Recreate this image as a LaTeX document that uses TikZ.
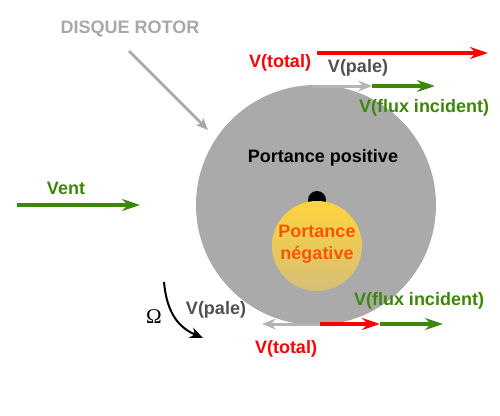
\documentclass[tikz,border=0pt]{standalone}
\usepackage{fontspec}
\setmainfont{Liberation Sans}
\newfontfamily\omegafont{Liberation Serif}
\usetikzlibrary{arrows.meta}
\begin{document}
\begin{tikzpicture}[x=1pt, y=-1pt,
    every node/.style={font=\fontsize{18}{22}\selectfont\bfseries, inner sep=0pt},
    vec/.style={line width=3.5pt, -{Stealth[length=18pt,width=12pt,inset=6pt]}}]
        \definecolor{disc}{RGB}{170,170,170}
        \definecolor{rotorgrey}{RGB}{168,168,168}
        \definecolor{blade}{RGB}{180,180,180}
        \definecolor{bladetext}{RGB}{80,80,80}
        \definecolor{wind}{RGB}{60,135,10}
        \definecolor{negtext}{RGB}{255,85,0}
        \definecolor{balltop}{RGB}{255,212,60}
        \definecolor{ballbot}{RGB}{214,190,120}
        \useasboundingbox (0,0) rectangle (500,415);
        \fill[disc] (316,205) circle (120);
        \fill[black] (317,200) circle (9);
        \shade[top color=balltop, bottom color=ballbot] (317,246) circle (45);
        \node[text=rotorgrey] (disque) at (130,29) {DISQUE ROTOR};
        \node[text=wind] (vent) at (66,188) {Vent};
        \node (pos) at (323,158) {Portance positive};
        \node[text=negtext, align=center] (neg) at (317,244) {Portance\\négative};
        \node[text=red] (totA) at (280,63) {V(total)};
        \node[text=bladetext] (paleA) at (358,68) {V(pale)};
        \node[text=wind] (fluxA) at (424,108) {V(flux incident)};
        \node[text=wind] (fluxB) at (419,301) {V(flux incident)};
        \node[text=bladetext] (paleB) at (216,310) {V(pale)};
        \node[text=red] (totB) at (286,349) {V(total)};
        \node[font=\fontsize{21}{21}\omegafont] (omega) at (154,317) {Ω};
        \coordinate (d0) at (129,51);
        \coordinate (d1) at (208,130);
        \coordinate (v0) at (17,205);
        \coordinate (v1) at (140,205);
        \coordinate (ta0) at (317,53);
        \coordinate (ta1) at (488,53);
        \coordinate (pa0) at (313,86);
        \coordinate (pa1) at (372,86);
        \coordinate (fa1) at (435,86);
        \coordinate (b0) at (320,324);
        \coordinate (pb1) at (262,324);
        \coordinate (tb1) at (380,324);
        \coordinate (fb1) at (443,324);
        \coordinate (o0) at (164,282);
        \coordinate (o1) at (203,338);
        \draw[rotorgrey, line width=2.5pt, -{Stealth[length=12pt,width=10pt,inset=3pt]}] (d0) -- (d1);
        \draw[wind, vec] (v0) -- (v1);
        \draw[red, vec] (ta0) -- (ta1);
        \draw[wind, vec] (pa1) -- (fa1);
        \draw[blade, line width=3pt, -{Stealth[length=14pt,width=11pt,inset=5pt]}] (pa0) -- (pa1);
        \draw[wind, vec] (tb1) -- (fb1);
        \draw[red, vec] (b0) -- (tb1);
        \draw[blade, line width=3pt, -{Stealth[length=14pt,width=11pt,inset=5pt]}] (b0) -- (pb1);
        \draw[black, line width=2pt, -{Stealth[length=13pt,width=11pt,inset=4pt]}] (o0) .. controls (167,315) and (180,328) .. (o1);
      \end{tikzpicture}
\end{document}
